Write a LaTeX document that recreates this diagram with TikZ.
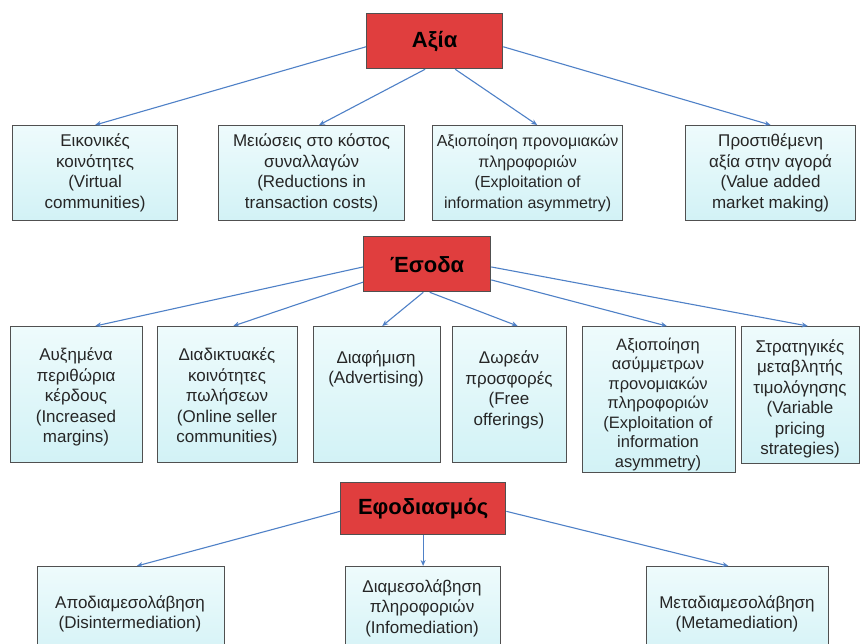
\documentclass[tikz,border=0pt]{standalone}
\usepackage{fontspec}
\setmainfont{Liberation Sans}
\usetikzlibrary{arrows.meta,calc}
\definecolor{redfill}{RGB}{224,62,62}
\definecolor{boxtop}{RGB}{238,251,252}
\definecolor{boxbot}{RGB}{210,242,246}
\definecolor{edgec}{RGB}{80,80,80}
\definecolor{arrowc}{RGB}{79,129,199}
\begin{document}
\begin{tikzpicture}[x=1pt,y=-1pt,
  head/.style={draw=edgec, line width=1.3pt, fill=redfill, inner sep=0pt, anchor=north west},
  leaf/.style={draw=edgec, line width=1.2pt, top color=boxtop, bottom color=boxbot, inner sep=0pt, anchor=north west},
  txt/.style={align=center, font=\fontsize{17}{20.5}\selectfont, inner sep=0pt, text=black!85},
  ttl/.style={font=\fontsize{22}{26}\selectfont\bfseries, inner sep=0pt},
  conn/.style={draw=arrowc, line width=1.1pt, -{Stealth[length=6pt,width=5pt]}}
]
\clip (0,0) rectangle (861,644);
\fill[white] (0,0) rectangle (861,644);

% ---- level 1
\node[head, minimum width=136pt, minimum height=55pt] (A) at (366,13) {};
\node[ttl] (At) at (A.center) {Αξία};

\node[leaf, minimum width=165pt, minimum height=95pt] (r1a) at (12,125) {};
\node[leaf, minimum width=186pt, minimum height=95pt] (r1b) at (218,125) {};
\node[leaf, minimum width=190pt, minimum height=95pt] (r1c) at (432,125) {};
\node[leaf, minimum width=170pt, minimum height=95pt] (r1d) at (685,125) {};
\node[txt] (t1a) at (r1a.center) {Εικονικές\\κοινότητες\\(Virtual\\communities)};
\node[txt] (t1b) at (r1b.center) {Μειώσεις στο κόστος\\συναλλαγών\\(Reductions in\\transaction costs)};
\node[txt, font=\fontsize{16}{20.5}\selectfont] (t1c) at (r1c.center) {Αξιοποίηση προνομιακών\\πληροφοριών\\(Exploitation of\\information asymmetry)};
\node[txt] (t1d) at (r1d.center) {Προστιθέμενη\\αξία στην αγορά\\(Value added\\market making)};

\draw[conn] ($(A.north west)!0.6!(A.south west)$) -- (r1a.north);
\draw[conn] ($(A.south west)!0.43!(A.south east)$) -- ($(r1b.north west)!0.54!(r1b.north east)$);
\draw[conn] ($(A.south west)!0.65!(A.south east)$) -- ($(r1c.north west)!0.55!(r1c.north east)$);
\draw[conn] ($(A.north east)!0.6!(A.south east)$) -- (r1d.north);

% ---- level 2
\node[head, minimum width=127pt, minimum height=55pt] (E) at (363,236) {};
\node[ttl] (Et) at (E.center) {Έσοδα};

\node[leaf, minimum width=132pt, minimum height=136pt] (r2a) at (10,326) {};
\node[leaf, minimum width=140pt, minimum height=136pt] (r2b) at (157,326) {};
\node[leaf, minimum width=127pt, minimum height=136pt] (r2c) at (313,326) {};
\node[leaf, minimum width=114pt, minimum height=136pt] (r2d) at (452,326) {};
\node[leaf, minimum width=153pt, minimum height=146pt] (r2e) at (582,326) {};
\node[leaf, minimum width=118pt, minimum height=137pt] (r2f) at (741,326) {};
\node[txt] (t2a) at (76,397) {Αυξημένα\\περιθώρια\\κέρδους\\(Increased\\margins)};
\node[txt] (t2b) at (227,397) {Διαδικτυακές\\κοινότητες\\πωλήσεων\\(Online seller\\communities)};
\node[txt] (t2c) at (376,369) {Διαφήμιση\\(Advertising)};
\node[txt] (t2d) at (509,390) {Δωρεάν\\προσφορές\\(Free\\offerings)};
\node[txt, font=\fontsize{16.5}{19.5}\selectfont] (t2e) at (658,404) {Αξιοποίηση\\ασύμμετρων\\προνομιακών\\πληροφοριών\\(Exploitation of\\information\\asymmetry)};
\node[txt] (t2f) at (800,399) {Στρατηγικές\\μεταβλητής\\τιμολόγησης\\(Variable\\pricing\\strategies)};

\draw[conn] ($(E.north west)!0.55!(E.south west)$) -- ($(r2a.north west)!0.64!(r2a.north east)$);
\draw[conn] ($(E.north west)!0.82!(E.south west)$) -- ($(r2b.north west)!0.54!(r2b.north east)$);
\draw[conn] ($(E.south west)!0.47!(E.south east)$) -- ($(r2c.north west)!0.54!(r2c.north east)$);
\draw[conn] ($(E.south west)!0.52!(E.south east)$) -- ($(r2d.north west)!0.57!(r2d.north east)$);
\draw[conn] ($(E.north east)!0.78!(E.south east)$) -- ($(r2e.north west)!0.55!(r2e.north east)$);
\draw[conn] ($(E.north east)!0.55!(E.south east)$) -- ($(r2f.north west)!0.56!(r2f.north east)$);

% ---- level 3
\node[head, minimum width=165pt, minimum height=52pt] (F) at (340,482) {};
\node[ttl] (Ft) at (F.center) {Εφοδιασμός};

\node[leaf, minimum width=187pt, minimum height=100pt] (r3a) at (37,566) {};
\node[leaf, minimum width=155pt, minimum height=100pt] (r3b) at (345,566) {};
\node[leaf, minimum width=182pt, minimum height=100pt] (r3c) at (646,566) {};
\node[txt] (t3a) at (130,614) {Αποδιαμεσολάβηση\\(Disintermediation)};
\node[txt] (t3b) at (422,608) {Διαμεσολάβηση\\πληροφοριών\\(Infomediation)};
\node[txt] (t3c) at (737,614) {Μεταδιαμεσολάβηση\\(Metamediation)};

\draw[conn] ($(F.north west)!0.55!(F.south west)$) -- ($(r3a.north west)!0.53!(r3a.north east)$);
\draw[conn] (F.south -| r3b.north) -- (r3b.north);
\draw[conn] ($(F.north east)!0.55!(F.south east)$) -- ($(r3c.north west)!0.45!(r3c.north east)$);
\end{tikzpicture}
\end{document}
